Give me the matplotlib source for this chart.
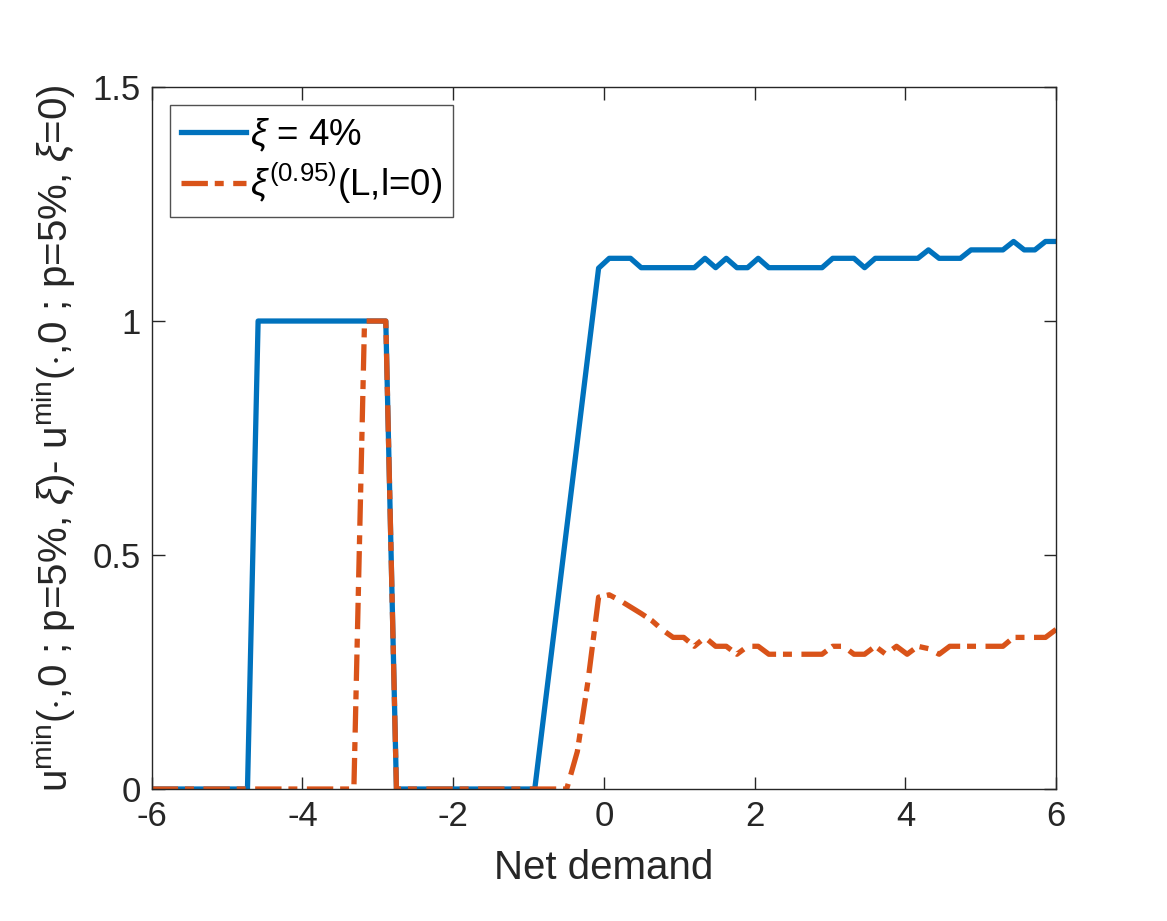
import matplotlib
matplotlib.use("Agg")
import matplotlib.pyplot as plt
import numpy as np

# ---------------------------------------------------------------------------
# data
# ---------------------------------------------------------------------------

# net demand grid: 86 evenly spaced points on [-6, 6]
net_demand = np.linspace(-6, 6, 86)

# xi = 4 %
u_diff_xi4 = [
    0, 0, 0, 0, 0, 0, 0, 0, 0, 0,                      # k 0-9
    1, 1, 1, 1, 1, 1, 1, 1, 1, 1, 1, 1, 1,             # k 10-22
    0, 0, 0, 0, 0, 0, 0, 0, 0, 0, 0, 0, 0, 0,          # k 23-36
    0.186, 0.371, 0.557, 0.742, 0.928,                 # k 37-41
    1.113, 1.134, 1.134, 1.134,                        # k 42-45
    1.114, 1.114, 1.114, 1.114, 1.114, 1.114,          # k 46-51
    1.134, 1.114, 1.134, 1.114, 1.114, 1.134, 1.114,   # k 52-58
    1.114, 1.114, 1.114, 1.114, 1.114,                 # k 59-63
    1.134, 1.134, 1.134, 1.114, 1.134,                 # k 64-68
    1.134, 1.134, 1.134, 1.134,                        # k 69-72
    1.152, 1.134, 1.134, 1.134,                        # k 73-76
    1.152, 1.152, 1.152, 1.152,                        # k 77-80
    1.170, 1.152, 1.152, 1.170, 1.170,                 # k 81-85
]

# xi^(0.95)(L, l=0)
u_diff_xi95 = [
    0, 0, 0, 0, 0, 0, 0, 0, 0, 0,                      # k 0-9
    0, 0, 0, 0, 0, 0, 0, 0, 0, 0,                      # k 10-19
    1, 1, 1,                                           # k 20-22
    0, 0, 0, 0, 0, 0, 0, 0, 0, 0, 0, 0, 0, 0, 0, 0, 0, # k 23-39
    0.08, 0.23, 0.41,                                  # k 40-42
    0.415, 0.403, 0.389, 0.375, 0.36, 0.34,            # k 43-48
    0.324, 0.324, 0.305, 0.324, 0.305, 0.305,          # k 49-54
    0.288, 0.305, 0.305, 0.288,                        # k 55-58
    0.288, 0.288, 0.288, 0.288, 0.288,                 # k 59-63
    0.305, 0.305, 0.288, 0.288, 0.305,                 # k 64-68
    0.288, 0.305, 0.288, 0.305, 0.300, 0.288,          # k 69-74
    0.305, 0.305, 0.305, 0.305, 0.305, 0.305,          # k 75-80
    0.324, 0.324, 0.324, 0.324, 0.341,                 # k 81-85
]

LABEL_XI4 = r"$\xi$ = 4%"
LABEL_XI95 = r"$\xi^{(0.95)}$(L,l=0)"
XLABEL = "Net demand"
YLABEL = (r"u$^{\mathrm{min}}$($\cdot$,0 ; p=5%, $\xi$)- "
          r"u$^{\mathrm{min}}$($\cdot$,0 ; p=5%, $\xi$=0)")

XTICKS = [-6, -4, -2, 0, 2, 4, 6]
YTICKS = [0, 0.5, 1, 1.5]

BLUE = "#0072BD"
ORANGE = "#D95319"

# ---------------------------------------------------------------------------
# style
# ---------------------------------------------------------------------------

plt.rcParams["font.family"] = ["Liberation Sans", "DejaVu Sans"]
plt.rcParams["mathtext.fontset"] = "custom"
plt.rcParams["mathtext.rm"] = "Liberation Sans"
plt.rcParams["mathtext.it"] = "Liberation Sans:italic"
plt.rcParams["mathtext.bf"] = "Liberation Sans:bold"

# ---------------------------------------------------------------------------
# plot
# ---------------------------------------------------------------------------

fig = plt.figure(figsize=(11.67, 9.21), dpi=100)
ax = fig.add_axes([0.130, 0.1433, 0.775, 0.7622])

ax.plot(net_demand, u_diff_xi4, color=BLUE, linewidth=3.8,
        solid_joinstyle="round", label=LABEL_XI4)
ax.plot(net_demand, u_diff_xi95, color=ORANGE, linewidth=3.8,
        linestyle=(0, (5.0, 1.3, 1.7, 1.8)), dash_capstyle="butt",
        dash_joinstyle="round", label=LABEL_XI95)

ax.set_xlim(-6, 6)
ax.set_ylim(0, 1.5)
ax.set_xticks(XTICKS)
ax.set_xticklabels([str(t) for t in XTICKS])
ax.set_yticks(YTICKS)
ax.set_yticklabels(["0", "0.5", "1", "1.5"])

for side in ["top", "right", "bottom", "left"]:
    ax.spines[side].set_color("#262626")
    ax.spines[side].set_linewidth(1.0)
ax.tick_params(direction="in", length=9, width=1.0, colors="#262626",
               top=True, right=True, labelsize=25, pad=8)

ax.set_xlabel(XLABEL, fontsize=29, color="#262626")
ax.set_ylabel(YLABEL, fontsize=29, color="#262626")
ax.xaxis.set_label_coords(0.5, -0.085)
ax.yaxis.set_label_coords(-0.082, 0.5)

leg = ax.legend(loc="upper left", fontsize=26.5, frameon=True, fancybox=False,
                edgecolor="#262626", handlelength=1.75, handletextpad=0.12,
                borderpad=0.3, labelspacing=0.2, borderaxespad=0.5)
leg.get_frame().set_linewidth(1.0)

fig.savefig("out.png", dpi=100)
